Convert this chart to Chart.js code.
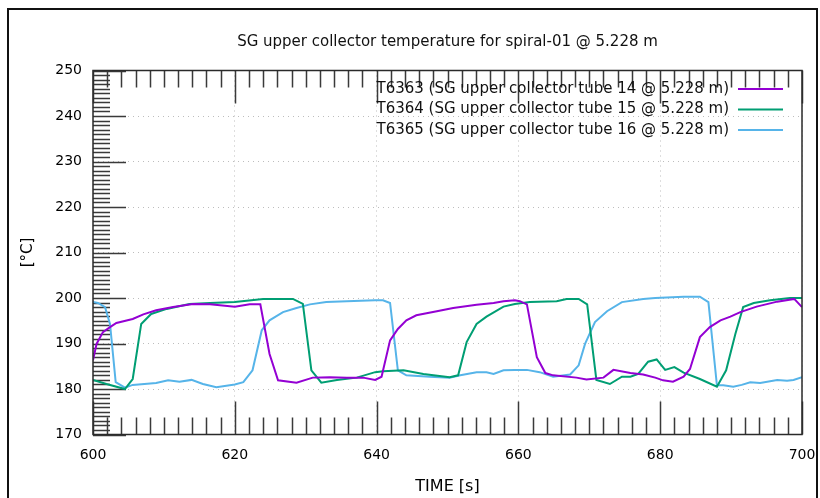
<!DOCTYPE html>
<html>
<head>
<meta charset="utf-8">
<script src="https://cdn.jsdelivr.net/npm/chart.js@4.4.1/dist/chart.umd.min.js"></script>
<style>
html, body { margin: 0; padding: 0; background: #fff; }
</style>
</head>
<body>
<canvas id="tempChart" width="820" height="498"></canvas>
<script>
// values (time [s], temperature [°C])
const t6363_time = [600, 600.5, 601.4, 602.4, 603.3, 605.6, 607.1, 608.9, 611.3, 614.1, 616.5, 620, 622.1, 623.6, 624.9, 626.1, 628.7, 631.0, 633.4, 635.8, 638.1, 639.8, 640.7, 641.9, 643.0, 644.2, 645.6, 648.5, 650.8, 654.1, 656.5, 657.9, 659.5, 660.2, 661.2, 662.6, 663.8, 664.9, 668.2, 669.6, 672.0, 673.4, 675.8, 677.6, 679.3, 680.4, 681.8, 683.3, 684.2, 685.6, 687.0, 688.5, 689.9, 691.3, 693.6, 696.5, 698.9, 700];
const t6363_temp = [186.3, 189.9, 192.5, 193.6, 194.5, 195.4, 196.4, 197.3, 198.0, 198.7, 198.6, 198.1, 198.6, 198.6, 187.7, 181.9, 181.4, 182.5, 182.6, 182.5, 182.5, 182.0, 182.7, 190.7, 193.2, 195.1, 196.2, 197.1, 197.8, 198.5, 198.9, 199.3, 199.5, 199.3, 198.6, 187.0, 183.5, 183.0, 182.5, 182.1, 182.5, 184.2, 183.5, 183.2, 182.5, 181.9, 181.6, 182.7, 184.4, 191.4, 193.6, 195.1, 195.9, 196.9, 198.1, 199.2, 199.8, 198.0];

const t6364_time = [600, 601.9, 604.5, 605.6, 606.8, 608.2, 610.4, 613.6, 616.5, 620, 624.0, 628.2, 629.6, 630.8, 632.2, 634.4, 637.2, 639.8, 640.9, 643.8, 646.6, 650.3, 651.5, 652.7, 654.1, 655.5, 657.9, 659.5, 661.6, 665.4, 666.8, 668.5, 669.7, 671.0, 672.9, 674.6, 675.8, 676.9, 678.3, 679.5, 680.7, 682.0, 683.3, 685.6, 688.0, 689.3, 690.6, 691.7, 693.2, 695.5, 698.3, 700];
const t6364_temp = [182.0, 181.1, 180.0, 182.2, 194.3, 196.5, 197.6, 198.7, 198.9, 199.1, 199.8, 199.8, 198.7, 184.1, 181.4, 182.0, 182.5, 183.7, 183.9, 184.1, 183.3, 182.6, 183.0, 190.3, 194.3, 195.9, 198.1, 198.7, 199.1, 199.3, 199.8, 199.8, 198.6, 182.0, 181.1, 182.7, 182.7, 183.3, 186.0, 186.5, 184.2, 184.8, 183.6, 182.2, 180.5, 184.1, 192.1, 198.0, 198.9, 199.5, 200.0, 200.0];

const t6365_time = [600, 600.7, 601.7, 602.4, 603.2, 604.5, 605.6, 608.9, 610.6, 612.2, 613.9, 615.5, 617.4, 620.0, 621.2, 622.5, 623.8, 624.9, 626.8, 628.7, 630.6, 632.9, 635.8, 639.8, 640.9, 641.9, 643.0, 644.2, 647.5, 650.3, 651.8, 654.1, 655.5, 656.5, 657.9, 659.5, 661.2, 663.0, 664.9, 667.3, 668.5, 669.4, 670.8, 672.5, 674.6, 677.6, 679.3, 683.3, 685.6, 686.8, 688.0, 688.9, 690.3, 691.5, 692.7, 694.1, 696.5, 697.9, 698.8, 700];
const t6365_temp = [199.1, 198.9, 198.0, 194.3, 181.5, 180.3, 180.9, 181.3, 181.9, 181.6, 182.0, 181.1, 180.4, 181.0, 181.5, 184.1, 192.9, 195.1, 196.9, 197.8, 198.6, 199.1, 199.3, 199.5, 199.5, 198.9, 184.1, 183.0, 182.7, 182.5, 183.0, 183.7, 183.7, 183.3, 184.1, 184.2, 184.2, 183.7, 182.7, 183.2, 185.2, 189.9, 194.7, 197.1, 199.1, 199.8, 200.0, 200.3, 200.3, 199.1, 180.8, 180.8, 180.5, 180.9, 181.5, 181.3, 182.0, 181.8, 182.0, 182.6];

const seriesLabels = [
    'T6363 (SG upper collector tube 14 @ 5.228 m)',
    'T6364 (SG upper collector tube 15 @ 5.228 m)',
    'T6365 (SG upper collector tube 16 @ 5.228 m)'
];
const seriesColors = ['#9400d3', '#009e73', '#56b4e9'];

const chartTitle = 'SG upper collector temperature for spiral-01 @ 5.228 m';
const xTitle = 'TIME [s]';
const yTitle = '[°C]';
const xMin = 600, xMax = 700, xStep = 20, xMinor = 2;
const yMin = 170, yMax = 250, yStep = 10, yMinor = 1;

const toPoints = (xs, ys) => xs.map((x, i) => ({x: x, y: ys[i]}));

// outer frame, title, plot border, inward tick marks, legend
const gnuplotLook = {
    id: 'gnuplotLook',
    beforeDatasetsDraw(chart) {
        const ctx = chart.ctx;
        const area = chart.chartArea;
        const xs = chart.scales.x;
        const ys = chart.scales.y;
        ctx.save();
        ctx.strokeStyle = '#3a3a3a';
        ctx.lineWidth = 1.5;
        ctx.beginPath();
        for (let v = xMin; v <= xMax; v += xMinor) {
            const px = Math.round(xs.getPixelForValue(v)) + 0.5;
            const len = (v - xMin) % xStep === 0 ? 33 : 17;
            ctx.moveTo(px, area.bottom);
            ctx.lineTo(px, area.bottom - len);
            ctx.moveTo(px, area.top);
            ctx.lineTo(px, area.top + len);
        }
        for (let v = yMin; v <= yMax; v += yMinor) {
            const py = Math.round(ys.getPixelForValue(v)) + 0.5;
            const len = (v - yMin) % yStep === 0 ? 33 : 17;
            ctx.moveTo(area.left, py);
            ctx.lineTo(area.left + len, py);
        }
        ctx.stroke();
        ctx.restore();
    },
    afterDraw(chart) {
        const ctx = chart.ctx;
        const area = chart.chartArea;
        ctx.save();
        // plot border
        ctx.strokeStyle = '#2a2a2a';
        ctx.lineWidth = 1.5;
        ctx.strokeRect(area.left, area.top, area.right - area.left, area.bottom - area.top);
        // outer frame of the picture
        ctx.strokeStyle = '#111';
        ctx.lineWidth = 2;
        ctx.beginPath();
        ctx.moveTo(8, 498);
        ctx.lineTo(8, 9);
        ctx.lineTo(817, 9);
        ctx.lineTo(817, 498);
        ctx.stroke();
        // title centred over the plot
        ctx.fillStyle = '#111';
        ctx.font = '15px "DejaVu Sans"';
        ctx.textAlign = 'center';
        ctx.textBaseline = 'middle';
        ctx.fillText(chartTitle, (area.left + area.right) / 2, 42);
        // legend, text right aligned with the sample line after it
        ctx.font = '15px "DejaVu Sans"';
        ctx.textAlign = 'right';
        chart.data.datasets.forEach((ds, i) => {
            const y = 89 + i * 20.5;
            ctx.fillStyle = '#111';
            ctx.fillText(ds.label, 729, y);
            ctx.strokeStyle = ds.borderColor;
            ctx.lineWidth = 2;
            ctx.beginPath();
            ctx.moveTo(738, y);
            ctx.lineTo(783, y);
            ctx.stroke();
        });
        ctx.restore();
    }
};

Chart.defaults.font.family = '"DejaVu Sans"';
Chart.defaults.font.size = 14;
Chart.defaults.color = '#000';

const tempChart = new Chart(document.getElementById('tempChart'), {
    type: 'line',
    data: {
        datasets: [
            {label: seriesLabels[0], data: toPoints(t6363_time, t6363_temp), borderColor: seriesColors[0]},
            {label: seriesLabels[1], data: toPoints(t6364_time, t6364_temp), borderColor: seriesColors[1]},
            {label: seriesLabels[2], data: toPoints(t6365_time, t6365_temp), borderColor: seriesColors[2]}
        ]
    },
    options: {
        responsive: false,
        animation: false,
        elements: {
            point: {radius: 0},
            line: {borderWidth: 2, tension: 0}
        },
        layout: {padding: {left: 0, right: 18, top: 70.5, bottom: 0}},
        plugins: {
            legend: {display: false},
            tooltip: {enabled: false},
            title: {display: false}
        },
        scales: {
            x: {
                type: 'linear',
                min: xMin,
                max: xMax,
                ticks: {stepSize: xStep, padding: 12, maxRotation: 0},
                grid: {color: '#bdbdbd', drawTicks: false},
                border: {display: false, dash: [1, 4]},
                title: {display: true, text: xTitle, padding: {top: 0, bottom: 2},
                        font: {size: 16}},
                afterFit: (scale) => {
                    scale.height = 63.5;
                    scale.paddingLeft = 0;
                    scale.paddingRight = 0;
                }
            },
            y: {
                min: yMin,
                max: yMax,
                ticks: {stepSize: yStep, padding: 11},
                grid: {color: '#bdbdbd', drawTicks: false},
                border: {display: false, dash: [1, 4]},
                title: {display: true, text: yTitle, padding: {top: 19, bottom: 0},
                        font: {size: 15}},
                afterFit: (scale) => {
                    scale.width = 93;
                    scale.paddingTop = 0;
                    scale.paddingBottom = 0;
                }
            }
        }
    },
    plugins: [gnuplotLook]
});
</script>
</body>
</html>
